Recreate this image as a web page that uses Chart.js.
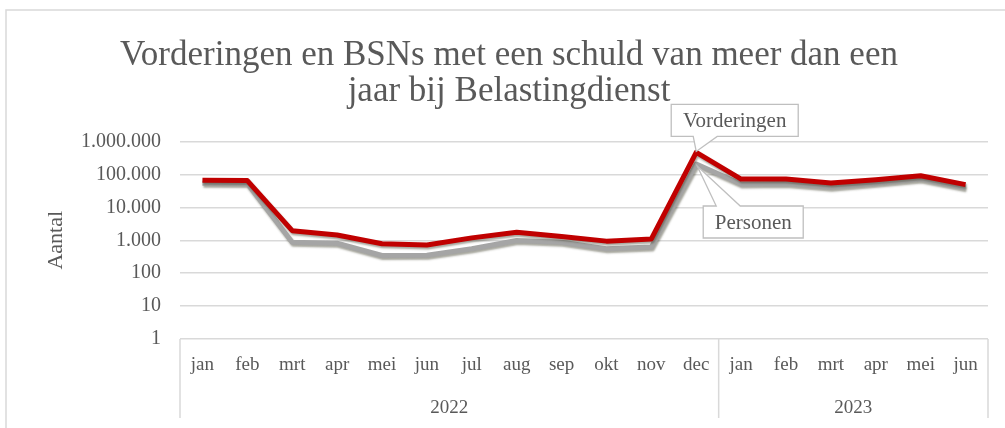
<!DOCTYPE html>
<html>
<head>
<meta charset="utf-8">
<script src="https://cdn.jsdelivr.net/npm/chart.js@4"></script>
<style>
  html, body { margin: 0; padding: 0; background: #fff; }
  #wrap { width: 1005px; height: 428px; position: relative; }
</style>
</head>
<body>
<div id="wrap"><canvas id="myChart"></canvas></div>
<script>
// months 2022 jan .. 2023 jun
var months = ['jan','feb','mrt','apr','mei','jun','jul','aug','sep','okt','nov','dec',
              'jan','feb','mrt','apr','mei','jun'];
var years = ['2022', '2023'];
var yearLength = [12, 6];

var vorderingen = [67000, 65000, 1950, 1450, 780, 720, 1180, 1750, 1300, 940, 1100, 465000,
                   72000, 72000, 55000, 69000, 91000, 49000];
var personen = [54000, 53000, 870, 810, 345, 350, 550, 980, 870, 550, 620, 207000,
                51000, 53000, 41000, 54000, 72000, 39000];

var yTicks = [1, 10, 100, 1000, 10000, 100000, 1000000];

var textColor = '#595959';
var gridColor = '#d9d9d9';
var serif = "'Liberation Serif', 'DejaVu Serif', serif";

function dots(v) {
  return String(v).replace(/\B(?=(\d{3})+(?!\d))/g, '.');
}

// shadow under the lines
var shadowPlugin = {
  id: 'shadow',
  beforeDatasetDraw: function(chart) {
    var c = chart.ctx;
    c.save();
    c.shadowColor = 'rgba(60,60,40,0.45)';
    c.shadowOffsetX = 1;
    c.shadowOffsetY = 2;
    c.shadowBlur = 2;
  },
  afterDatasetDraw: function(chart) {
    chart.ctx.restore();
  }
};

// frame, year groups and callouts
var extras = {
  id: 'extras',
  beforeDraw: function(chart) {
    var c = chart.ctx;
    c.save();
    c.strokeStyle = gridColor;
    c.lineWidth = 1.5;
    c.beginPath();
    c.moveTo(6, 428);
    c.lineTo(6, 10);
    c.lineTo(1005, 10);
    c.stroke();
    c.restore();
  },
  afterDraw: function(chart) {
    var c = chart.ctx;
    var area = chart.chartArea;
    var step = (area.right - area.left) / months.length;

    c.save();
    c.strokeStyle = gridColor;
    c.lineWidth = 1.5;
    var start = 0;
    var edges = [0];
    for (var i = 0; i < years.length; i++) {
      start += yearLength[i];
      edges.push(start);
    }
    for (var j = 0; j < edges.length; j++) {
      var ex = area.left + edges[j] * step;
      c.beginPath();
      c.moveTo(ex, area.bottom);
      c.lineTo(ex, 418);
      c.stroke();
    }
    c.fillStyle = textColor;
    c.font = '19px ' + serif;
    c.textAlign = 'center';
    c.textBaseline = 'middle';
    for (var k = 0; k < years.length; k++) {
      var mid = area.left + (edges[k] + edges[k + 1]) / 2 * step;
      c.fillText(years[k], mid, 408);
    }

    // callouts at dec 2022
    var idx = 11;
    var p1 = chart.getDatasetMeta(0).data[idx];
    var p2 = chart.getDatasetMeta(1).data[idx];

    function callout(text, bx, by, bw, bh, tip, t1, t2, below) {
      c.fillStyle = '#fff';
      c.strokeStyle = '#bfbfbf';
      c.lineWidth = 1.3;
      c.beginPath();
      c.moveTo(bx, by);
      if (below) {
        c.lineTo(t1, by);
        c.lineTo(tip.x, tip.y);
        c.lineTo(t2, by);
        c.lineTo(bx + bw, by);
        c.lineTo(bx + bw, by + bh);
        c.lineTo(bx, by + bh);
      } else {
        c.lineTo(bx + bw, by);
        c.lineTo(bx + bw, by + bh);
        c.lineTo(t2, by + bh);
        c.lineTo(tip.x, tip.y);
        c.lineTo(t1, by + bh);
        c.lineTo(bx, by + bh);
      }
      c.closePath();
      c.fill();
      c.stroke();
      c.fillStyle = textColor;
      c.font = '21px ' + serif;
      c.fillText(text, bx + bw / 2, by + bh / 2 + 1);
    }

    callout('Vorderingen', p1.x - 25, p1.y - 48, 127, 32,
            {x: p1.x, y: p1.y - 1}, p1.x - 3, p1.x + 21, false);
    callout('Personen', p2.x + 7, p2.y + 42, 100, 32,
            {x: p2.x + 1, y: p2.y + 2}, p2.x + 20, p2.x + 44, true);
    c.restore();
  }
};

var ctx = document.getElementById('myChart');

var chart = new Chart(ctx, {
  type: 'line',
  data: {
    labels: months,
    datasets: [
      {
        label: 'Vorderingen',
        data: vorderingen,
        borderColor: '#c00000',
        borderWidth: 5,
        pointRadius: 0,
        tension: 0,
        borderJoinStyle: 'round'
      },
      {
        label: 'Personen',
        data: personen,
        borderColor: '#a5a5a5',
        borderWidth: 5,
        pointRadius: 0,
        tension: 0,
        borderJoinStyle: 'round'
      }
    ]
  },
  options: {
    responsive: true,
    maintainAspectRatio: false,
    animation: false,
    layout: { padding: { left: 13, right: 0, top: 0, bottom: 0 } },
    plugins: {
      legend: { display: false },
      tooltip: { enabled: false },
      title: {
        display: true,
        text: ['Vorderingen en BSNs met een schuld van meer dan een', 'jaar bij Belastingdienst'],
        color: textColor,
        font: { family: serif, size: 35, weight: 'normal', lineHeight: 1.05 },
        padding: { top: 37, bottom: 31 }
      }
    },
    scales: {
      x: {
        type: 'category',
        offset: true,
        grid: { display: false, drawTicks: false },
        border: { display: false },
        ticks: {
          color: textColor,
          font: { family: serif, size: 19 },
          autoSkip: false,
          maxRotation: 0,
          padding: 15
        },
        afterFit: function(scale) { scale.height = 89; }
      },
      y: {
        type: 'logarithmic',
        min: 1,
        max: 1000000,
        grid: { color: gridColor, lineWidth: 1.5, drawTicks: false },
        border: { display: false },
        afterBuildTicks: function(scale) {
          scale.ticks = yTicks.map(function(v) { return { value: v }; });
        },
        ticks: {
          color: textColor,
          font: { family: serif, size: 20 },
          padding: 19,
          callback: function(v) { return dots(v); }
        },
        title: {
          display: true,
          text: 'Aantal',
          color: textColor,
          font: { family: serif, size: 22 },
          padding: { top: 30, bottom: 0 }
        },
        afterFit: function(scale) { scale.width = 167; }
      },
      // empty right strip so the plot ends where the reference does
      yRight: {
        position: 'right',
        grid: { display: false, drawTicks: false },
        border: { display: false },
        ticks: { display: false },
        afterFit: function(scale) { scale.width = 17; }
      }
    }
  },
  plugins: [shadowPlugin, extras]
});
</script>
</body>
</html>
